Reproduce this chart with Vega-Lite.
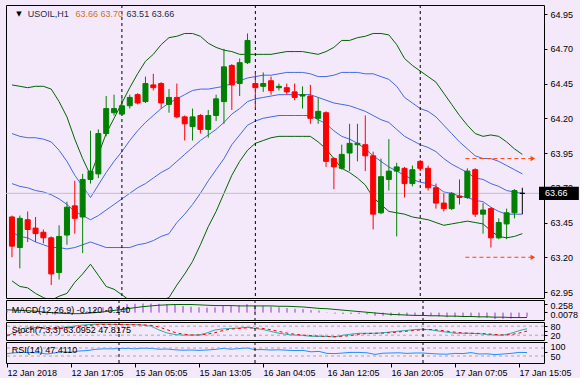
{
"$schema":"https://vega.github.io/schema/vega-lite/v6.json",
"background":"#F4E9FA",
"padding":{"left":4,"top":4,"right":0,"bottom":0},
"spacing":2,
"bounds":"flush",
"config":{"view":{"stroke":"#000000","strokeWidth":1},
"axis":{"labelFont":"Liberation Sans","labelFontSize":9,"labelColor":"#000000","domain":false,"grid":false,"tickColor":"#000000","tickSize":3,"labelPadding":3}},
"datasets":{
"seps":[{"i":14},{"i":31},{"i":52}],
"bars":[
{"i":0,"o":63.49,"h":63.50,"l":63.20,"c":63.28,"u2":64.44,"u1":64.09,"m":63.73,"l1":63.38,"l2":63.03,"macd":0.05,"sig":0.08,"st":15,"ss":20,"rsi":42},
{"i":1,"o":63.27,"h":63.50,"l":63.12,"c":63.48,"u2":64.43,"u1":64.07,"m":63.71,"l1":63.35,"l2":62.99,"macd":0.03,"sig":0.07,"st":40,"ss":25,"rsi":46},
{"i":2,"o":63.47,"h":63.53,"l":63.31,"c":63.40,"u2":64.42,"u1":64.06,"m":63.70,"l1":63.34,"l2":62.98,"macd":0.02,"sig":0.06,"st":65,"ss":40,"rsi":48},
{"i":3,"o":63.41,"h":63.49,"l":63.31,"c":63.37,"u2":64.43,"u1":64.06,"m":63.68,"l1":63.31,"l2":62.94,"macd":0.00,"sig":0.05,"st":70,"ss":58,"rsi":47},
{"i":4,"o":63.38,"h":63.40,"l":63.30,"c":63.34,"u2":64.43,"u1":64.05,"m":63.67,"l1":63.29,"l2":62.91,"macd":-0.02,"sig":0.03,"st":72,"ss":69,"rsi":46},
{"i":5,"o":63.34,"h":63.35,"l":63.00,"c":63.08,"u2":64.41,"u1":64.03,"m":63.65,"l1":63.27,"l2":62.89,"macd":-0.06,"sig":0.01,"st":60,"ss":67,"rsi":40},
{"i":6,"o":63.09,"h":63.43,"l":63.04,"c":63.35,"u2":64.32,"u1":63.97,"m":63.62,"l1":63.27,"l2":62.92,"macd":-0.06,"sig":-0.01,"st":62,"ss":65,"rsi":46},
{"i":7,"o":63.36,"h":63.60,"l":63.29,"c":63.56,"u2":64.21,"u1":63.89,"m":63.58,"l1":63.26,"l2":62.94,"macd":-0.04,"sig":-0.02,"st":72,"ss":65,"rsi":51},
{"i":8,"o":63.57,"h":63.75,"l":63.37,"c":63.48,"u2":64.05,"u1":63.79,"m":63.53,"l1":63.27,"l2":63.02,"macd":-0.03,"sig":-0.03,"st":78,"ss":71,"rsi":49},
{"i":9,"o":63.49,"h":63.80,"l":63.23,"c":63.76,"u2":63.91,"u1":63.71,"m":63.50,"l1":63.29,"l2":63.08,"macd":0.00,"sig":-0.03,"st":85,"ss":78,"rsi":55},
{"i":10,"o":63.76,"h":64.11,"l":63.73,"c":63.82,"u2":63.79,"u1":63.63,"m":63.47,"l1":63.31,"l2":63.15,"macd":0.04,"sig":-0.02,"st":90,"ss":84,"rsi":57},
{"i":11,"o":63.80,"h":64.12,"l":63.77,"c":64.09,"u2":63.94,"u1":63.72,"m":63.50,"l1":63.29,"l2":63.07,"macd":0.10,"sig":0.00,"st":93,"ss":89,"rsi":63},
{"i":12,"o":64.09,"h":64.36,"l":64.07,"c":64.27,"u2":64.09,"u1":63.81,"m":63.54,"l1":63.27,"l2":62.99,"macd":0.15,"sig":0.02,"st":94,"ss":92,"rsi":66},
{"i":13,"o":64.24,"h":64.37,"l":64.22,"c":64.27,"u2":64.20,"u1":63.89,"m":63.58,"l1":63.27,"l2":62.97,"macd":0.18,"sig":0.05,"st":92,"ss":93,"rsi":66},
{"i":14,"o":64.23,"h":64.35,"l":64.22,"c":64.29,"u2":64.31,"u1":63.96,"m":63.62,"l1":63.27,"l2":62.93,"macd":0.21,"sig":0.08,"st":91,"ss":92,"rsi":67},
{"i":15,"o":64.29,"h":64.37,"l":64.27,"c":64.35,"u2":64.42,"u1":64.04,"m":63.66,"l1":63.27,"l2":62.89,"macd":0.24,"sig":0.11,"st":90,"ss":91,"rsi":68},
{"i":16,"o":64.37,"h":64.38,"l":64.30,"c":64.31,"u2":64.52,"u1":64.11,"m":63.70,"l1":63.29,"l2":62.88,"macd":0.25,"sig":0.14,"st":90,"ss":90,"rsi":66},
{"i":17,"o":64.32,"h":64.50,"l":64.31,"c":64.45,"u2":64.61,"u1":64.17,"m":63.73,"l1":63.30,"l2":62.86,"macd":0.258,"sig":0.17,"st":88,"ss":89,"rsi":69},
{"i":18,"o":64.44,"h":64.52,"l":64.40,"c":64.42,"u2":64.66,"u1":64.22,"m":63.77,"l1":63.32,"l2":62.88,"macd":0.256,"sig":0.19,"st":80,"ss":86,"rsi":68},
{"i":19,"o":64.45,"h":64.46,"l":64.27,"c":64.31,"u2":64.73,"u1":64.27,"m":63.81,"l1":63.35,"l2":62.89,"macd":0.25,"sig":0.21,"st":55,"ss":74,"rsi":64},
{"i":20,"o":64.30,"h":64.41,"l":64.24,"c":64.35,"u2":64.78,"u1":64.31,"m":63.84,"l1":63.37,"l2":62.91,"macd":0.24,"sig":0.22,"st":35,"ss":57,"rsi":65},
{"i":21,"o":64.35,"h":64.45,"l":64.20,"c":64.21,"u2":64.79,"u1":64.34,"m":63.89,"l1":63.45,"l2":63.00,"macd":0.22,"sig":0.23,"st":25,"ss":38,"rsi":61},
{"i":22,"o":64.21,"h":64.22,"l":64.04,"c":64.16,"u2":64.81,"u1":64.37,"m":63.94,"l1":63.51,"l2":63.08,"macd":0.19,"sig":0.23,"st":20,"ss":27,"rsi":59},
{"i":23,"o":64.14,"h":64.27,"l":64.04,"c":64.21,"u2":64.81,"u1":64.40,"m":63.99,"l1":63.58,"l2":63.17,"macd":0.17,"sig":0.23,"st":20,"ss":22,"rsi":60},
{"i":24,"o":64.22,"h":64.23,"l":64.09,"c":64.12,"u2":64.79,"u1":64.41,"m":64.04,"l1":63.66,"l2":63.29,"macd":0.15,"sig":0.22,"st":22,"ss":21,"rsi":58},
{"i":25,"o":64.12,"h":64.26,"l":64.06,"c":64.22,"u2":64.74,"u1":64.41,"m":64.08,"l1":63.75,"l2":63.42,"macd":0.14,"sig":0.21,"st":35,"ss":26,"rsi":60},
{"i":26,"o":64.22,"h":64.37,"l":64.18,"c":64.34,"u2":64.71,"u1":64.42,"m":64.12,"l1":63.83,"l2":63.53,"macd":0.15,"sig":0.20,"st":55,"ss":37,"rsi":63},
{"i":27,"o":64.32,"h":64.70,"l":64.16,"c":64.57,"u2":64.69,"u1":64.43,"m":64.17,"l1":63.91,"l2":63.66,"macd":0.19,"sig":0.20,"st":62,"ss":51,"rsi":68},
{"i":28,"o":64.58,"h":64.59,"l":64.26,"c":64.44,"u2":64.68,"u1":64.45,"m":64.23,"l1":64.01,"l2":63.79,"macd":0.19,"sig":0.20,"st":65,"ss":61,"rsi":64},
{"i":29,"o":64.45,"h":64.63,"l":64.36,"c":64.60,"u2":64.66,"u1":64.47,"m":64.27,"l1":64.08,"l2":63.89,"macd":0.21,"sig":0.19,"st":68,"ss":65,"rsi":67},
{"i":30,"o":64.60,"h":64.81,"l":64.59,"c":64.76,"u2":64.66,"u1":64.49,"m":64.32,"l1":64.15,"l2":63.97,"macd":0.24,"sig":0.19,"st":73,"ss":69,"rsi":70},
{"i":31,"o":64.45,"h":64.53,"l":64.27,"c":64.42,"u2":64.66,"u1":64.50,"m":64.34,"l1":64.18,"l2":64.02,"macd":0.21,"sig":0.19,"st":65,"ss":69,"rsi":62},
{"i":32,"o":64.43,"h":64.53,"l":64.39,"c":64.45,"u2":64.66,"u1":64.51,"m":64.35,"l1":64.20,"l2":64.04,"macd":0.19,"sig":0.19,"st":58,"ss":65,"rsi":62},
{"i":33,"o":64.47,"h":64.50,"l":64.37,"c":64.40,"u2":64.66,"u1":64.51,"m":64.36,"l1":64.21,"l2":64.06,"macd":0.17,"sig":0.19,"st":45,"ss":56,"rsi":60},
{"i":34,"o":64.42,"h":64.45,"l":64.40,"c":64.43,"u2":64.67,"u1":64.52,"m":64.37,"l1":64.22,"l2":64.07,"macd":0.15,"sig":0.18,"st":33,"ss":45,"rsi":61},
{"i":35,"o":64.42,"h":64.45,"l":64.37,"c":64.39,"u2":64.68,"u1":64.53,"m":64.37,"l1":64.22,"l2":64.07,"macd":0.13,"sig":0.18,"st":25,"ss":34,"rsi":59},
{"i":36,"o":64.39,"h":64.45,"l":64.33,"c":64.35,"u2":64.68,"u1":64.53,"m":64.37,"l1":64.22,"l2":64.07,"macd":0.11,"sig":0.17,"st":20,"ss":26,"rsi":57},
{"i":37,"o":64.36,"h":64.43,"l":64.27,"c":64.37,"u2":64.68,"u1":64.53,"m":64.37,"l1":64.22,"l2":64.07,"macd":0.10,"sig":0.16,"st":18,"ss":21,"rsi":58},
{"i":38,"o":64.36,"h":64.44,"l":64.16,"c":64.20,"u2":64.67,"u1":64.52,"m":64.37,"l1":64.22,"l2":64.07,"macd":0.07,"sig":0.14,"st":13,"ss":17,"rsi":51},
{"i":39,"o":64.20,"h":64.35,"l":64.16,"c":64.25,"u2":64.66,"u1":64.50,"m":64.35,"l1":64.19,"l2":64.03,"macd":0.06,"sig":0.12,"st":12,"ss":14,"rsi":53},
{"i":40,"o":64.24,"h":64.25,"l":63.85,"c":63.89,"u2":64.68,"u1":64.50,"m":64.33,"l1":64.16,"l2":63.98,"macd":0.01,"sig":0.11,"st":12,"ss":12,"rsi":43},
{"i":41,"o":63.91,"h":63.92,"l":63.69,"c":63.85,"u2":64.71,"u1":64.51,"m":64.31,"l1":64.11,"l2":63.91,"macd":-0.03,"sig":0.09,"st":8,"ss":11,"rsi":42},
{"i":42,"o":63.84,"h":64.01,"l":63.83,"c":63.94,"u2":64.76,"u1":64.53,"m":64.30,"l1":64.07,"l2":63.84,"macd":-0.04,"sig":0.07,"st":20,"ss":13,"rsi":45},
{"i":43,"o":63.95,"h":64.16,"l":63.82,"c":64.02,"u2":64.76,"u1":64.53,"m":64.29,"l1":64.05,"l2":63.81,"macd":-0.04,"sig":0.05,"st":27,"ss":18,"rsi":48},
{"i":44,"o":64.01,"h":64.16,"l":63.89,"c":64.02,"u2":64.78,"u1":64.53,"m":64.27,"l1":64.02,"l2":63.77,"macd":-0.04,"sig":0.03,"st":33,"ss":27,"rsi":48},
{"i":45,"o":64.01,"h":64.22,"l":63.82,"c":63.93,"u2":64.79,"u1":64.52,"m":64.25,"l1":63.98,"l2":63.72,"macd":-0.05,"sig":0.01,"st":33,"ss":31,"rsi":46},
{"i":46,"o":63.93,"h":63.96,"l":63.40,"c":63.51,"u2":64.81,"u1":64.52,"m":64.22,"l1":63.93,"l2":63.63,"macd":-0.09,"sig":-0.01,"st":33,"ss":33,"rsi":38},
{"i":47,"o":63.52,"h":63.91,"l":63.51,"c":63.78,"u2":64.81,"u1":64.50,"m":64.19,"l1":63.89,"l2":63.58,"macd":-0.09,"sig":-0.03,"st":36,"ss":34,"rsi":44},
{"i":48,"o":63.76,"h":64.05,"l":63.68,"c":63.82,"u2":64.80,"u1":64.48,"m":64.17,"l1":63.85,"l2":63.53,"macd":-0.09,"sig":-0.05,"st":42,"ss":37,"rsi":45},
{"i":49,"o":63.82,"h":63.88,"l":63.35,"c":63.85,"u2":64.73,"u1":64.43,"m":64.12,"l1":63.82,"l2":63.52,"macd":-0.08,"sig":-0.06,"st":47,"ss":42,"rsi":46},
{"i":50,"o":63.84,"h":63.85,"l":63.63,"c":63.73,"u2":64.63,"u1":64.35,"m":64.07,"l1":63.79,"l2":63.51,"macd":-0.09,"sig":-0.07,"st":52,"ss":47,"rsi":43},
{"i":51,"o":63.73,"h":63.86,"l":63.71,"c":63.83,"u2":64.58,"u1":64.31,"m":64.04,"l1":63.76,"l2":63.49,"macd":-0.08,"sig":-0.08,"st":58,"ss":52,"rsi":45},
{"i":52,"o":63.89,"h":63.90,"l":63.82,"c":63.84,"u2":64.54,"u1":64.27,"m":64.01,"l1":63.74,"l2":63.48,"macd":-0.08,"sig":-0.08,"st":60,"ss":57,"rsi":45},
{"i":53,"o":63.84,"h":63.86,"l":63.68,"c":63.70,"u2":64.50,"u1":64.25,"m":63.99,"l1":63.73,"l2":63.47,"macd":-0.09,"sig":-0.09,"st":55,"ss":58,"rsi":42},
{"i":54,"o":63.70,"h":63.73,"l":63.55,"c":63.59,"u2":64.46,"u1":64.21,"m":63.96,"l1":63.71,"l2":63.45,"macd":-0.11,"sig":-0.09,"st":47,"ss":54,"rsi":40},
{"i":55,"o":63.59,"h":63.66,"l":63.53,"c":63.55,"u2":64.38,"u1":64.15,"m":63.91,"l1":63.67,"l2":63.43,"macd":-0.13,"sig":-0.10,"st":40,"ss":47,"rsi":39},
{"i":56,"o":63.55,"h":63.67,"l":63.54,"c":63.66,"u2":64.30,"u1":64.09,"m":63.87,"l1":63.66,"l2":63.44,"macd":-0.13,"sig":-0.10,"st":33,"ss":40,"rsi":43},
{"i":57,"o":63.64,"h":63.76,"l":63.58,"c":63.63,"u2":64.22,"u1":64.03,"m":63.84,"l1":63.64,"l2":63.45,"macd":-0.13,"sig":-0.11,"st":33,"ss":35,"rsi":42},
{"i":58,"o":63.63,"h":63.84,"l":63.62,"c":63.82,"u2":64.15,"u1":63.98,"m":63.81,"l1":63.63,"l2":63.46,"macd":-0.12,"sig":-0.11,"st":33,"ss":33,"rsi":47},
{"i":59,"o":63.83,"h":63.84,"l":63.49,"c":63.51,"u2":64.09,"u1":63.93,"m":63.77,"l1":63.61,"l2":63.45,"macd":-0.14,"sig":-0.12,"st":30,"ss":32,"rsi":40},
{"i":60,"o":63.51,"h":63.59,"l":63.37,"c":63.54,"u2":64.07,"u1":63.91,"m":63.76,"l1":63.60,"l2":63.44,"macd":-0.15,"sig":-0.12,"st":25,"ss":29,"rsi":41},
{"i":61,"o":63.55,"h":63.56,"l":63.27,"c":63.34,"u2":64.08,"u1":63.91,"m":63.73,"l1":63.56,"l2":63.39,"macd":-0.18,"sig":-0.13,"st":20,"ss":25,"rsi":37},
{"i":62,"o":63.34,"h":63.48,"l":63.33,"c":63.45,"u2":64.07,"u1":63.89,"m":63.71,"l1":63.53,"l2":63.35,"macd":-0.18,"sig":-0.13,"st":20,"ss":22,"rsi":40},
{"i":63,"o":63.44,"h":63.55,"l":63.33,"c":63.52,"u2":64.03,"u1":63.86,"m":63.68,"l1":63.51,"l2":63.34,"macd":-0.17,"sig":-0.14,"st":33,"ss":24,"rsi":43},
{"i":64,"o":63.52,"h":63.69,"l":63.48,"c":63.68,"u2":63.98,"u1":63.83,"m":63.67,"l1":63.51,"l2":63.35,"macd":-0.14,"sig":-0.14,"st":50,"ss":34,"rsi":48},
{"i":65,"o":63.66,"h":63.70,"l":63.51,"c":63.66,"u2":63.94,"u1":63.80,"m":63.66,"l1":63.51,"l2":63.37,"macd":-0.12,"sig":-0.14,"st":63.1,"ss":47.8,"rsi":47.4}
]},
"vconcat":[
{"width":538,"height":293,
"resolve":{"axis":{"x":"independent","y":"independent"}},
"layer":[
{"data":{"name":"bars"},"transform":[{"fold":["u2","u1","m","l1","l2"],"as":["band","val"]}],"mark":{"type":"line","strokeWidth":1,"clip":true},
"encoding":{"x":{"field":"i","type":"quantitative","scale":{"domain":[-0.125,67.125],"nice":false,"zero":false},"axis":null},
"y":{"field":"val","type":"quantitative","scale":{"domain":[62.907,65.015],"nice":false,"zero":false},"axis":{"orient":"right","values":[64.95,64.7,64.45,64.2,63.95,63.7,63.45,63.2,62.95],"format":".2f","title":null}},
"color":{"field":"band","type":"nominal","scale":{"domain":["u2","u1","m","l1","l2"],"range":["#006400","#4169E1","#4169E1","#4169E1","#006400"]},"legend":null}}},
{"data":{"values":[{"p":63.66}]},"mark":{"type":"rule","color":"#C0C0C0","strokeWidth":1},"encoding":{"y":{"field":"p","type":"quantitative","axis":null}}},
{"data":{"name":"seps"},"mark":{"type":"rule","color":"#000000","strokeDash":[3,3],"strokeWidth":1},"encoding":{"x":{"field":"i","type":"quantitative","axis":null}}},
{"data":{"name":"bars"},"mark":{"type":"rule","strokeWidth":1,"clip":true},"encoding":{"x":{"field":"i","type":"quantitative","axis":null},"y":{"field":"l","type":"quantitative","axis":null},"y2":{"field":"h"},
"color":{"condition":[{"test":"datum.c > datum.o","value":"#008000"},{"test":"datum.c < datum.o","value":"#FF0000"}],"value":"#000000"}}},
{"data":{"name":"bars"},"mark":{"type":"bar","width":5,"strokeWidth":1,"clip":true},"encoding":{"x":{"field":"i","type":"quantitative","axis":null},"y":{"field":"o","type":"quantitative","axis":null},"y2":{"field":"c"},
"fill":{"condition":[{"test":"datum.c > datum.o","value":"#008000"},{"test":"datum.c < datum.o","value":"#FF0000"}],"value":"#000000"},
"stroke":{"condition":[{"test":"datum.c > datum.o","value":"#008000"},{"test":"datum.c < datum.o","value":"#FF0000"}],"value":"#000000"}}},
{"data":{"values":[{"p":63.91,"a":57.75,"b":66.2},{"p":63.2,"a":57.75,"b":66.2}]},"mark":{"type":"rule","color":"#FF4500","strokeDash":[4,3],"strokeWidth":1},"encoding":{"x":{"field":"a","type":"quantitative","axis":null},"x2":{"field":"b"},"y":{"field":"p","type":"quantitative","axis":null}}},
{"data":{"values":[{"p":63.91,"b":66.35},{"p":63.2,"b":66.35}]},"mark":{"type":"point","shape":"triangle-right","filled":true,"color":"#FF4500","opacity":1,"size":28},"encoding":{"x":{"field":"b","type":"quantitative","axis":null},"y":{"field":"p","type":"quantitative","axis":null}}},
{"data":{"values":[{"t":"▼","x":0.9,"p":64.95}]},"mark":{"type":"text","font":"DejaVu Sans","fontSize":7,"color":"#000000","align":"center","baseline":"middle"},"encoding":{"x":{"field":"x","type":"quantitative","axis":null},"y":{"field":"p","type":"quantitative","axis":null},"text":{"field":"t"}}},
{"data":{"values":[{"t":"USOIL,H1","x":2.0,"p":64.95},{"t":"63.51 63.66","x":14.6,"p":64.95}]},"mark":{"type":"text","font":"Liberation Sans","fontSize":9,"color":"#1C2B48","align":"left","baseline":"middle"},"encoding":{"x":{"field":"x","type":"quantitative","axis":null},"y":{"field":"p","type":"quantitative","axis":null},"text":{"field":"t"}}},
{"data":{"values":[{"t":"63.66 63.70","x":8.1,"p":64.95}]},"mark":{"type":"text","font":"Liberation Sans","fontSize":9,"color":"#C8741E","align":"left","baseline":"middle"},"encoding":{"x":{"field":"x","type":"quantitative","axis":null},"y":{"field":"p","type":"quantitative","axis":null},"text":{"field":"t"}}},
{"data":{"values":[{"a":67.125,"b":72.2,"p":63.612,"q":63.708}]},"mark":{"type":"rect","color":"#000000"},"encoding":{"x":{"field":"a","type":"quantitative","axis":null},"x2":{"field":"b"},"y":{"field":"p","type":"quantitative","axis":null},"y2":{"field":"q"}}},
{"data":{"values":[{"t":"63.66","a":67.125,"p":63.66}]},"mark":{"type":"text","font":"Liberation Sans","fontSize":9,"color":"#FFFFFF","align":"left","baseline":"middle","dx":6},"encoding":{"x":{"field":"a","type":"quantitative","axis":null},"y":{"field":"p","type":"quantitative","axis":null},"text":{"field":"t"}}}
]},
{"width":538,"height":20,
"resolve":{"axis":{"x":"independent","y":"independent"}},
"layer":[
{"data":{"name":"bars"},"mark":{"type":"rule","color":"#9932CC","strokeWidth":1},"encoding":{"x":{"field":"i","type":"quantitative","scale":{"domain":[-0.125,67.125],"nice":false,"zero":false},"axis":null},"y":{"field":"macd","type":"quantitative","scale":{"domain":[-0.21,0.358],"nice":false,"zero":false},"axis":{"orient":"right","values":[0.258,0.0078],"format":".4~f","labelOffset":2,"title":null}},"y2":{"datum":0}}},
{"data":{"name":"bars"},"mark":{"type":"line","color":"#006400","strokeWidth":1},"encoding":{"x":{"field":"i","type":"quantitative","axis":null},"y":{"field":"sig","type":"quantitative","axis":null}}},
{"data":{"name":"seps"},"mark":{"type":"rule","color":"#000000","strokeDash":[3,3],"strokeWidth":1},"encoding":{"x":{"field":"i","type":"quantitative","axis":null}}},
{"data":{"values":[{"t":"MACD(12,26,9) -0.120 -0.140","x":0.6,"p":0.074}]},"mark":{"type":"text","font":"Liberation Sans","fontSize":9,"color":"#000000","align":"left","baseline":"middle"},"encoding":{"x":{"field":"x","type":"quantitative","axis":null},"y":{"field":"p","type":"quantitative","axis":null},"text":{"field":"t"}}}
]},
{"width":538,"height":18,
"resolve":{"axis":{"x":"independent","y":"independent"}},
"layer":[
{"data":{"name":"bars"},"mark":{"type":"line","color":"#20B2AA","strokeWidth":1},"encoding":{"x":{"field":"i","type":"quantitative","scale":{"domain":[-0.125,67.125],"nice":false,"zero":false},"axis":null},"y":{"field":"st","type":"quantitative","scale":{"domain":[-12,108],"nice":false,"zero":false},"axis":{"orient":"right","values":[80,50,20],"format":"d","title":null}}}},
{"data":{"values":[{"v":80},{"v":20}]},"mark":{"type":"rule","color":"#A8A8A8","strokeDash":[3,3],"strokeWidth":1},"encoding":{"y":{"field":"v","type":"quantitative","axis":null}}},
{"data":{"name":"bars"},"mark":{"type":"line","color":"#FF0000","strokeWidth":1,"strokeDash":[3,3]},"encoding":{"x":{"field":"i","type":"quantitative","axis":null},"y":{"field":"ss","type":"quantitative","axis":null}}},
{"data":{"name":"seps"},"mark":{"type":"rule","color":"#000000","strokeDash":[3,3],"strokeWidth":1},"encoding":{"x":{"field":"i","type":"quantitative","axis":null}}},
{"data":{"values":[{"t":"Stoch(7,3,3) 63.0952 47.8175","x":0.6,"p":54}]},"mark":{"type":"text","font":"Liberation Sans","fontSize":9,"color":"#000000","align":"left","baseline":"middle"},"encoding":{"x":{"field":"x","type":"quantitative","axis":null},"y":{"field":"p","type":"quantitative","axis":null},"text":{"field":"t"}}}
]},
{"width":538,"height":21,
"resolve":{"axis":{"x":"independent","y":"independent"}},
"layer":[
{"data":{"name":"bars"},"mark":{"type":"line","color":"#1E90FF","strokeWidth":1},"encoding":{"x":{"field":"i","type":"quantitative","scale":{"domain":[-0.125,67.125],"nice":false,"zero":false},
"axis":{"orient":"bottom","values":[0,8,16,24,32,40,48,56,64],"labelExpr":"['12 Jan 2018','12 Jan 17:05','15 Jan 05:05','15 Jan 13:05','16 Jan 04:05','16 Jan 12:05','16 Jan 20:05','17 Jan 07:05','17 Jan 15:05'][round(datum.value/8)]","labelAlign":"left","labelBaseline":"top","tickSize":4,"labelPadding":1,"labelOverlap":false,"labelBound":false,"labelFlush":false,"title":null}},
"y":{"field":"rsi","type":"quantitative","scale":{"domain":[-5,100],"nice":false,"zero":false},"axis":{"orient":"right","values":[100,50],"format":"d","labelOffset":4,"title":null}}}},
{"data":{"values":[{"v":70},{"v":30}]},"mark":{"type":"rule","color":"#A8A8A8","strokeDash":[3,3],"strokeWidth":1},"encoding":{"y":{"field":"v","type":"quantitative","axis":null}}},
{"data":{"name":"seps"},"mark":{"type":"rule","color":"#000000","strokeDash":[3,3],"strokeWidth":1},"encoding":{"x":{"field":"i","type":"quantitative","axis":null}}},
{"data":{"values":[{"t":"RSI(14) 47.4110","x":0.6,"p":62}]},"mark":{"type":"text","font":"Liberation Sans","fontSize":9,"color":"#000000","align":"left","baseline":"middle"},"encoding":{"x":{"field":"x","type":"quantitative","axis":null},"y":{"field":"p","type":"quantitative","axis":null},"text":{"field":"t"}}}
]}
]}
